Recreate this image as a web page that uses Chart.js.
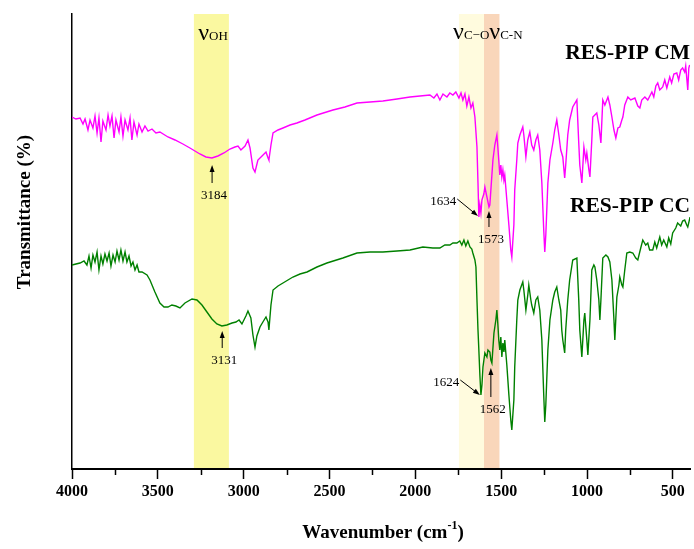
<!DOCTYPE html>
<html>
<head>
<meta charset="utf-8">
<script src="https://cdn.jsdelivr.net/npm/chart.js@4.4.0/dist/chart.umd.min.js"></script>
<style>
    body { margin: 0; background: #fff; }
    #wrap { width: 694px; height: 549px; }
</style>
</head>
<body>
<div id="wrap"><canvas id="graficoFTIR"></canvas></div>
<script>
// RES-PIP CM (magenta)
const cmWavenumber = [4000,3977,3953,3936,3924,3907,3895,3878,3866,3854,3843,3831,3820,3802,3790,3779,3767,3755,3744,3726,
    3715,3703,3691,3674,3662,3651,3639,3621,3610,3592,3575,3557,3534,3511,3488,3441,3400,3354,3313,3255,
    3220,3185,3150,3115,3080,3051,3033,3016,2992,2975,2963,2946,2934,2917,2893,2870,2858,2853,2841,2829,
    2800,2771,2730,2690,2643,2573,2480,2410,2340,2264,2189,2107,2031,1973,1915,1892,1874,1857,1839,1816,
    1799,1781,1764,1746,1734,1723,1711,1700,1688,1676,1665,1653,1641,1635,1630,1624,1618,1612,1601,1595,
    1583,1571,1566,1554,1548,1537,1525,1519,1514,1508,1502,1496,1490,1484,1479,1467,1455,1444,1438,1426,
    1421,1409,1403,1391,1374,1368,1356,1345,1333,1322,1310,1298,1287,1275,1263,1252,1246,1240,1228,1216,
    1199,1188,1176,1164,1153,1141,1130,1124,1112,1101,1083,1059,1048,1042,1030,1018,1007,1001,989,983,
    972,966,943,931,919,908,896,878,867,855,843,832,820,809,797,791,780,762,745,721,
    704,692,681,663,646,622,611,599,588,576,559,547,535,518,507,494,477,466,454,443,
    431,425,413,407,402];
const cmTransmittance = [352,350,351,345,350,339,349,341,353,336,351,327,348,339,354,343,353,331,349,337,
    352,333,349,339,351,329,347,334,345,337,343,338,340,336,337,332,329,325,321,315,
    312,311,313,316,320,322,323,319,323,329,321,301,297,309,313,317,311,309,324,336,
    339,341,344,346,349,354,359,362,366,367,368,370,372,373,374,371,375,369,375,372,
    376,374,377,371,376,369,375,363,372,361,366,352,322,286,252,264,256,269,275,282,
    272,262,264,294,309,324,334,321,309,294,304,292,299,289,294,269,244,219,212,244,
    279,309,326,334,342,334,312,329,337,324,319,329,334,319,286,239,217,234,286,309,
    326,339,349,334,319,312,291,304,334,349,362,369,326,304,286,322,309,316,299,292,
    329,352,356,344,326,369,364,372,364,352,339,331,341,342,349,352,364,372,369,371,
    363,361,369,372,369,377,372,383,386,379,382,389,381,392,386,395,396,389,399,401,
    397,403,379,401,404];

// RES-PIP CC (verde)
const ccWavenumber = [4000,3977,3953,3930,3913,3901,3889,3878,3866,3854,3843,3831,3820,3808,3796,3784,3773,3761,3749,3738,
    3726,3715,3703,3691,3680,3668,3656,3645,3633,3621,3610,3592,3563,3546,3517,3488,3464,3441,3418,3395,
    3371,3342,3301,3272,3243,3214,3185,3156,3127,3098,3068,3045,3027,3010,2987,2975,2958,2946,2934,2923,
    2905,2888,2870,2858,2853,2841,2829,2800,2771,2742,2713,2672,2631,2573,2515,2422,2340,2264,2189,2107,
    2031,1956,1898,1857,1828,1799,1781,1758,1741,1729,1717,1706,1694,1682,1671,1665,1653,1647,1641,1635,
    1630,1624,1618,1612,1606,1595,1583,1577,1566,1560,1554,1542,1531,1525,1519,1514,1508,1502,1496,1490,
    1484,1479,1467,1455,1444,1438,1426,1421,1409,1403,1391,1374,1368,1356,1345,1339,1327,1322,1310,1298,
    1287,1275,1263,1252,1246,1240,1228,1216,1199,1188,1176,1164,1153,1147,1141,1130,1124,1112,1101,1083,
    1059,1048,1042,1030,1018,1013,1001,995,983,972,960,954,943,931,925,919,908,890,878,867,
    855,843,838,832,826,814,809,797,791,780,768,751,733,716,704,687,675,658,646,635,
    617,605,594,576,565,553,535,524,512,501,483,472,454,443,431,419,413,402,400];
const ccTransmittance = [204,205,206,208,204,213,201,214,207,217,199,213,205,215,208,216,203,214,207,218,
    209,219,208,217,207,213,203,207,199,204,197,197,194,189,177,166,162,162,164,163,
    161,166,170,169,164,157,150,145,143,144,146,147,149,145,153,158,151,134,122,133,
    142,147,152,147,139,164,179,183,186,189,192,195,197,202,206,211,216,217,217,218,
    219,222,221,221,224,224,226,226,228,224,229,223,228,222,220,216,209,202,169,139,
    119,94,74,84,102,116,112,119,117,109,106,136,149,159,144,129,119,132,112,126,
    117,129,104,74,49,39,69,102,149,169,179,187,179,159,174,184,169,164,156,169,
    172,159,129,74,47,64,119,149,169,177,182,169,159,139,129,116,139,169,189,209,
    211,169,139,112,149,156,129,114,149,199,204,202,189,169,149,169,211,214,212,207,
    189,149,129,151,172,184,192,184,182,199,216,217,216,211,209,221,229,224,226,219,
    219,227,221,232,224,229,222,231,225,236,241,246,243,248,249,244,242,250,252];

const majorTicks = [4000, 3500, 3000, 2500, 2000, 1500, 1000, 500];
const minorTicks = [3750, 3250, 2750, 2250, 1750, 1250, 750];

// faixas de absorção (cm-1)
const bandOH = [3290, 3086];
const bandCO = [1746, 1600];
const bandCN = [1600, 1510];

// picos marcados: [texto, número de onda da ponta, valor da ponta, número de onda da cauda, valor da cauda]
const peakNotes = [
    ['3184', 3184, 304, 3184, 286],
    ['3131', 3125, 138, 3125, 121],
    ['1573', 1571, 258, 1571, 242],
    ['1562', 1560, 101, 1560, 72],
    ['1634', 1635, 253, 1756, 270],
    ['1624', 1624, 74, 1738, 89]
];

const SERIF = '"Liberation Serif", "Times New Roman", serif';

function pontos(xs, ys) {
    return xs.map((x, i) => ({ x: x, y: ys[i] }));
}

function seta(ctx, x1, y1, x2, y2) {
    // linha da cauda (x1,y1) até a ponta (x2,y2) com cabeça cheia
    const ang = Math.atan2(y2 - y1, x2 - x1);
    const head = 7;
    ctx.beginPath();
    ctx.moveTo(x1, y1);
    ctx.lineTo(x2 - Math.cos(ang) * head * 0.8, y2 - Math.sin(ang) * head * 0.8);
    ctx.stroke();
    ctx.beginPath();
    ctx.moveTo(x2, y2);
    ctx.lineTo(x2 - head * Math.cos(ang) + 2.5 * Math.sin(ang), y2 - head * Math.sin(ang) - 2.5 * Math.cos(ang));
    ctx.lineTo(x2 - head * Math.cos(ang) - 2.5 * Math.sin(ang), y2 - head * Math.sin(ang) + 2.5 * Math.cos(ang));
    ctx.closePath();
    ctx.fill();
}

function textoIndice(ctx, x, base, main, sub) {
    ctx.textAlign = 'left';
    ctx.font = '24px ' + SERIF;
    ctx.fillText(main, x, base);
    const w = ctx.measureText(main).width;
    ctx.font = '13px ' + SERIF;
    ctx.fillText(sub, x + w, base);
    return x + w + ctx.measureText(sub).width;
}

const extrasPlugin = {
    id: 'extras',
    beforeDraw(chart) {
        const ctx = chart.ctx;
        const xs = chart.scales.x;
        const area = chart.chartArea;
        const faixa = (b, cor) => {
            const a = xs.getPixelForValue(b[0]);
            const c = xs.getPixelForValue(b[1]);
            ctx.fillStyle = cor;
            ctx.fillRect(a, area.top, c - a, area.bottom - area.top);
        };
        ctx.save();
        faixa(bandOH, 'rgb(250,248,160)');
        faixa(bandCO, 'rgb(255,251,222)');
        faixa(bandCN, 'rgb(249,214,186)');
        ctx.restore();
    },
    afterDraw(chart) {
        const ctx = chart.ctx;
        const xs = chart.scales.x;
        const ys = chart.scales.y;
        const area = chart.chartArea;
        ctx.save();
        ctx.fillStyle = '#000';
        ctx.strokeStyle = '#000';

        // ticks menores
        ctx.lineWidth = 1.5;
        minorTicks.forEach(v => {
            const px = Math.round(xs.getPixelForValue(v)) + 0.5;
            ctx.beginPath();
            ctx.moveTo(px, area.bottom);
            ctx.lineTo(px, area.bottom + 6);
            ctx.stroke();
        });

        // título eixo y
        ctx.save();
        ctx.translate(24, 212);
        ctx.rotate(-Math.PI / 2);
        ctx.font = 'bold 19px ' + SERIF;
        ctx.textAlign = 'center';
        ctx.textBaseline = 'alphabetic';
        ctx.fillText('Transmittance (%)', 0, 6);
        ctx.restore();

        // título eixo x com sobrescrito
        ctx.font = 'bold 19px ' + SERIF;
        ctx.textAlign = 'left';
        const parte1 = 'Wavenumber (cm';
        const w1 = ctx.measureText(parte1).width;
        ctx.font = 'bold 12px ' + SERIF;
        const w2 = ctx.measureText('-1').width;
        ctx.font = 'bold 19px ' + SERIF;
        const w3 = ctx.measureText(')').width;
        let x0 = 383 - (w1 + w2 + w3) / 2;
        ctx.fillText(parte1, x0, 538);
        ctx.font = 'bold 12px ' + SERIF;
        ctx.fillText('-1', x0 + w1, 529);
        ctx.font = 'bold 19px ' + SERIF;
        ctx.fillText(')', x0 + w1 + w2, 538);

        // rótulos das faixas
        textoIndice(ctx, xs.getPixelForValue(3265), 40, 'ν', 'OH');
        let fim = textoIndice(ctx, xs.getPixelForValue(1780), 39, 'ν', 'C\u2212O');
        textoIndice(ctx, fim, 39, 'ν', 'C-N');

        // nomes das amostras
        ctx.font = 'bold 21.5px ' + SERIF;
        ctx.textAlign = 'right';
        ctx.fillText('RES-PIP CM', area.right, 59);
        ctx.fillText('RES-PIP CC', area.right, 212);

        // setas e números dos picos
        ctx.lineWidth = 1;
        ctx.font = '13px ' + SERIF;
        peakNotes.forEach(n => {
            const tx = xs.getPixelForValue(n[1]);
            const ty = ys.getPixelForValue(n[2]);
            const cx = xs.getPixelForValue(n[3]);
            const cy = ys.getPixelForValue(n[4]);
            seta(ctx, cx, cy, tx, ty);
            if (n[1] === n[3]) {
                ctx.textAlign = 'center';
                ctx.fillText(n[0], cx + 2, cy + 16);
            } else {
                ctx.textAlign = 'right';
                ctx.fillText(n[0], cx - 1, cy + 6);
            }
        });
        ctx.restore();
    }
};

const ctx = document.getElementById('graficoFTIR').getContext('2d');
new Chart(ctx, {
    type: 'line',
    data: {
        datasets: [
            {
                label: 'RES-PIP CM',
                data: pontos(cmWavenumber, cmTransmittance),
                borderColor: '#ff00ff',
                borderWidth: 1.4,
                pointRadius: 0,
                tension: 0
            },
            {
                label: 'RES-PIP CC',
                data: pontos(ccWavenumber, ccTransmittance),
                borderColor: '#008000',
                borderWidth: 1.4,
                pointRadius: 0,
                tension: 0
            }
        ]
    },
    options: {
        responsive: true,
        maintainAspectRatio: false,
        animation: false,
        layout: { padding: { top: 14, right: 4, left: 0, bottom: 0 } },
        plugins: {
            legend: { display: false },
            tooltip: { enabled: false }
        },
        scales: {
            x: {
                type: 'linear',
                reverse: true,
                min: 400,
                max: 4000,
                afterFit: s => { s.height = 80; },
                afterBuildTicks: s => { s.ticks = majorTicks.map(v => ({ value: v })); },
                grid: {
                    display: true,
                    drawOnChartArea: false,
                    drawTicks: true,
                    tickLength: 10,
                    tickColor: '#000',
                    tickWidth: 1.5
                },
                border: { display: true, color: '#000', width: 2 },
                ticks: {
                    color: '#000',
                    padding: 3,
                    maxRotation: 0,
                    autoSkip: false,
                    callback: v => String(v),
                    font: { family: SERIF, size: 16, weight: 'bold' }
                }
            },
            y: {
                min: 0,
                max: 455,
                afterFit: s => { s.width = 72; },
                grid: { display: false },
                border: { display: true, color: '#000', width: 1.5 },
                ticks: { display: false }
            }
        }
    },
    plugins: [extrasPlugin]
});
</script>
</body>
</html>
